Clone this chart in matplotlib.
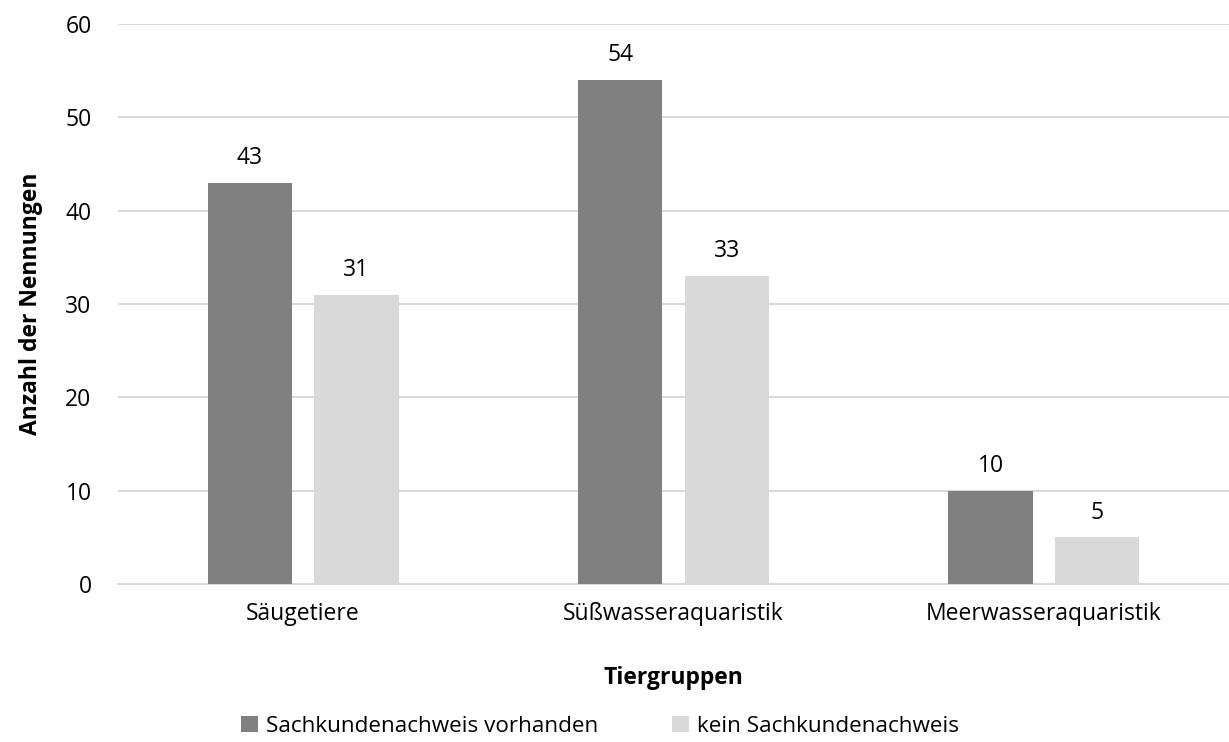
import matplotlib.pyplot as plt
import numpy as np

plt.rcParams['font.family'] = ['Open Sans', 'DejaVu Sans']

# data
categories = ['Säugetiere', 'Süßwasseraquaristik', 'Meerwasseraquaristik']
mit_nachweis = [43, 54, 10]
ohne_nachweis = [31, 33, 5]
series_names = ['Sachkundenachweis vorhanden', 'kein Sachkundenachweis']
y_ticks = [0, 10, 20, 30, 40, 50, 60]

fs = 16.5
txt = '#000000'

fig = plt.figure(figsize=(12.29, 7.42), dpi=100)
ax = fig.add_axes([118 / 1229, 1 - 584 / 742, (1229 - 118) / 1229, (584 - 24) / 742])

x = np.arange(len(categories))
w = 0.227
off = 0.144
b1 = ax.bar(x - off, mit_nachweis, w, color='#808080', label=series_names[0], zorder=3)
b2 = ax.bar(x + off, ohne_nachweis, w, color='#d9d9d9', label=series_names[1], zorder=3)

# value labels above each bar
for bars in (b1, b2):
    for rect in bars:
        ax.annotate(str(int(rect.get_height())),
                    (rect.get_x() + rect.get_width() / 2, rect.get_height()),
                    xytext=(0, 9), textcoords='offset points',
                    ha='center', va='bottom', fontsize=fs, color=txt)

ax.set_xlim(-0.5, 2.5)
ax.set_ylim(0, 60)
ax.set_yticks(y_ticks)
ax.set_xticks(x)
ax.set_xticklabels(categories)
ax.tick_params(axis='both', length=0, labelsize=fs, colors=txt)
ax.tick_params(axis='y', pad=19)
ax.tick_params(axis='x', pad=13)
ax.grid(axis='y', color='#d9d9d9', linewidth=1.5, zorder=0)
for s in ['top', 'right', 'left']:
    ax.spines[s].set_visible(False)
ax.spines['bottom'].set_color('#d9d9d9')
ax.spines['bottom'].set_linewidth(1.5)

ax.set_ylabel('Anzahl der Nennungen', fontsize=fs, fontweight='bold', color=txt, labelpad=16)
ax.set_xlabel('Tiergruppen', fontsize=fs, fontweight='bold', color=txt, labelpad=29)

fig.legend(loc='lower center', bbox_to_anchor=(0.488, -0.02), ncol=2, frameon=False,
           fontsize=16.2, handlelength=0.75, handleheight=0.75, handletextpad=0.35,
           columnspacing=3.3, labelcolor=txt)

fig.savefig('out.png', dpi=100)
